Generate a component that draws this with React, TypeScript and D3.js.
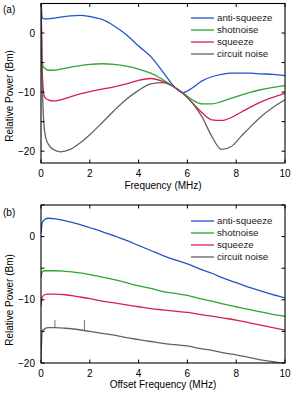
import React from "react";
import * as d3 from "d3";

// panel (a): power vs frequency
const freqA = [0, 0.05, 0.12, 0.2, 0.3, 0.5, 0.8, 1.2, 1.6, 2, 2.5, 3, 3.5, 4, 4.5, 5, 5.4, 5.8, 6.2, 6.6, 7, 7.4, 7.8, 8.2, 8.6, 9, 9.5, 10];
const antiSqueezeA = [6, 2.6, 2.4, 2.4, 2.4, 2.5, 2.7, 2.9, 3.0, 2.8, 2.3, 1.2, -0.3, -2.2, -4.0, -6.6, -8.8, -10.1, -9.3, -8.1, -7.4, -7.0, -6.8, -6.8, -6.8, -6.9, -7.0, -7.2];
const shotNoiseA = [-4.9, -5.3, -5.8, -6.1, -6.3, -6.3, -6.1, -5.8, -5.5, -5.3, -5.2, -5.3, -5.6, -6.1, -6.8, -7.9, -9.0, -10.1, -11.3, -12.0, -12.0, -11.6, -11.0, -10.5, -10.0, -9.6, -9.2, -8.9];
const squeezeA = [6, -6, -10.5, -11.1, -11.3, -11.5, -11.3, -10.8, -10.3, -9.9, -9.5, -9.1, -8.6, -8.0, -7.7, -8.2, -9.0, -10.2, -11.8, -13.5, -14.7, -14.8, -14.3, -13.4, -12.5, -11.7, -10.9, -10.2];
const circuitA = [6, -8, -15.5, -17.8, -18.8, -19.7, -20.1, -19.7, -18.6, -17.2, -15.2, -13.1, -11.2, -9.7, -8.6, -8.4, -9.0, -10.1, -11.8, -14.2, -17.5, -19.7, -19.2, -17.5, -15.8, -14.2, -12.6, -11.3];

// panel (b): power vs offset frequency
const freqB = [0, 0.05, 0.15, 0.3, 0.6, 1, 1.5, 2, 2.5, 3, 3.5, 4, 4.5, 5, 5.5, 6, 6.5, 7, 7.5, 8, 8.5, 9, 9.5, 10];
const antiSqueezeB = [0.5, 2.2, 2.7, 2.9, 2.8, 2.5, 2.0, 1.4, 0.8, 0.1, -0.6, -1.4, -2.2, -3.0, -3.7, -4.3, -5.1, -5.8, -6.6, -7.3, -8.0, -8.6, -9.2, -9.7];
const shotNoiseB = [-6.5, -5.6, -5.4, -5.4, -5.4, -5.5, -5.7, -6.0, -6.4, -6.8, -7.3, -7.8, -8.2, -8.7, -9.0, -9.3, -9.8, -10.2, -10.7, -11.1, -11.5, -11.9, -12.3, -12.6];
const squeezeB = [-11, -9.6, -9.2, -9.1, -9.1, -9.2, -9.5, -9.8, -10.2, -10.5, -10.8, -11.1, -11.4, -11.6, -11.8, -12.0, -12.3, -12.6, -12.9, -13.2, -13.6, -14.0, -14.4, -14.8];
const circuitB = [-19.5, -15, -14.6, -14.4, -14.4, -14.5, -14.7, -15.0, -15.3, -15.6, -16.0, -16.3, -16.6, -16.9, -17.1, -17.3, -17.7, -18.0, -18.4, -18.7, -19.1, -19.5, -19.8, -20.1];
// narrow spurs on the circuit-noise trace: [freq, base, peak]
const circuitSpursB = [[0.57, -14.4, -13.2], [1.78, -14.9, -13.2]];

const seriesNames = ["anti-squeeze", "shotnoise", "squeeze", "circuit noise"];
const seriesColors = ["#1d56c6", "#2ea52e", "#d81f4a", "#636363"];
const xTicks = [0, 2, 4, 6, 8, 10];
const yTicks = [-20, -15, -10, -5, 0, 5];
const yLabels = [-20, -10, 0];

const FONT = "'Liberation Sans', Arial, Helvetica, sans-serif";
const left = 41;
const right = 285;

function Panel({ id, top, bottom, yDomain, freq, series, spurs, tag, tagY, xTitle, titleY, legendTop, yTitleY }) {
  const x = d3.scaleLinear().domain([0, 10]).range([left, right]);
  const y = d3.scaleLinear().domain(yDomain).range([bottom, top]);
  const line = d3.line<number>()
    .x((d, i) => x(freq[i]))
    .y(d => y(d))
    .curve(d3.curveMonotoneX);
  const tickLen = 3.5;
  const yt = yTicks.filter(t => t >= yDomain[0] && t <= yDomain[1]);

  return (
    <g>
      <defs>
        <clipPath id={"clip-" + id}>
          <rect x={left} y={top} width={right - left} height={bottom - top} />
        </clipPath>
      </defs>
      <g clipPath={`url(#clip-${id})`}>
        {series.map((s, i) => (
          <path key={i} d={line(s)} fill="none" stroke={seriesColors[i]} strokeWidth={1.3} strokeLinejoin="round" />
        ))}
        {spurs.map((s, i) => (
          <line key={"sp" + i} x1={x(s[0])} x2={x(s[0])} y1={y(s[1])} y2={y(s[2])} stroke={seriesColors[3]} strokeWidth={0.9} />
        ))}
      </g>
      <rect x={left} y={top} width={right - left} height={bottom - top} fill="none" stroke="#000" strokeWidth={1.1} />
      {xTicks.map(t => (
        <g key={"x" + t}>
          <line x1={x(t)} x2={x(t)} y1={bottom} y2={bottom - tickLen} stroke="#000" />
          <line x1={x(t)} x2={x(t)} y1={top} y2={top + tickLen} stroke="#000" />
          <text x={x(t)} y={bottom + 14} textAnchor="middle" fontSize={10} fontFamily={FONT}>{t}</text>
        </g>
      ))}
      {yt.map(t => (
        <g key={"y" + t}>
          <line x1={left} x2={left + tickLen} y1={y(t)} y2={y(t)} stroke="#000" />
          <line x1={right} x2={right - tickLen} y1={y(t)} y2={y(t)} stroke="#000" />
        </g>
      ))}
      {yLabels.map(t => (
        <text key={"yl" + t} x={left - 6} y={y(t) + 3.5} textAnchor="end" fontSize={10} fontFamily={FONT}>
          {t < 0 ? "\u2212" + Math.abs(t) : t}
        </text>
      ))}
      <text x={(left + right) / 2} y={titleY} textAnchor="middle" fontSize={10} fontFamily={FONT}>{xTitle}</text>
      <text transform={`translate(13,${yTitleY}) rotate(-90)`} textAnchor="middle" fontSize={10} fontFamily={FONT}>Relative Power (Bm)</text>
      <text x={3} y={tagY} fontSize={10} fontFamily={FONT}>{tag}</text>
      {seriesNames.map((n, i) => (
        <g key={n} transform={`translate(191,${legendTop + i * 12})`}>
          <line x1={0} x2={23} y1={0} y2={0} stroke={seriesColors[i]} strokeWidth={1.3} />
          <text x={26} y={3.3} fontSize={9.7} fontFamily={FONT} fill="#222">{n}</text>
        </g>
      ))}
    </g>
  );
}

export default function App() {
  return (
    <svg width={308} height={393} style={{ position: "absolute", left: 0, top: 0, background: "#fff" }}>
      <Panel id="a" top={3.5} bottom={163} yDomain={[-22, 5]} freq={freqA}
        series={[antiSqueezeA, shotNoiseA, squeezeA, circuitA]} spurs={[]}
        tag="(a)" tagY={13} xTitle="Frequency (MHz)" titleY={189} legendTop={18} yTitleY={96} />
      <Panel id="b" top={205} bottom={363} yDomain={[-20, 5]} freq={freqB}
        series={[antiSqueezeB, shotNoiseB, squeezeB, circuitB]} spurs={circuitSpursB}
        tag="(b)" tagY={216} xTitle="Offset Frequency (MHz)" titleY={388} legendTop={221} yTitleY={300} />
    </svg>
  );
}
